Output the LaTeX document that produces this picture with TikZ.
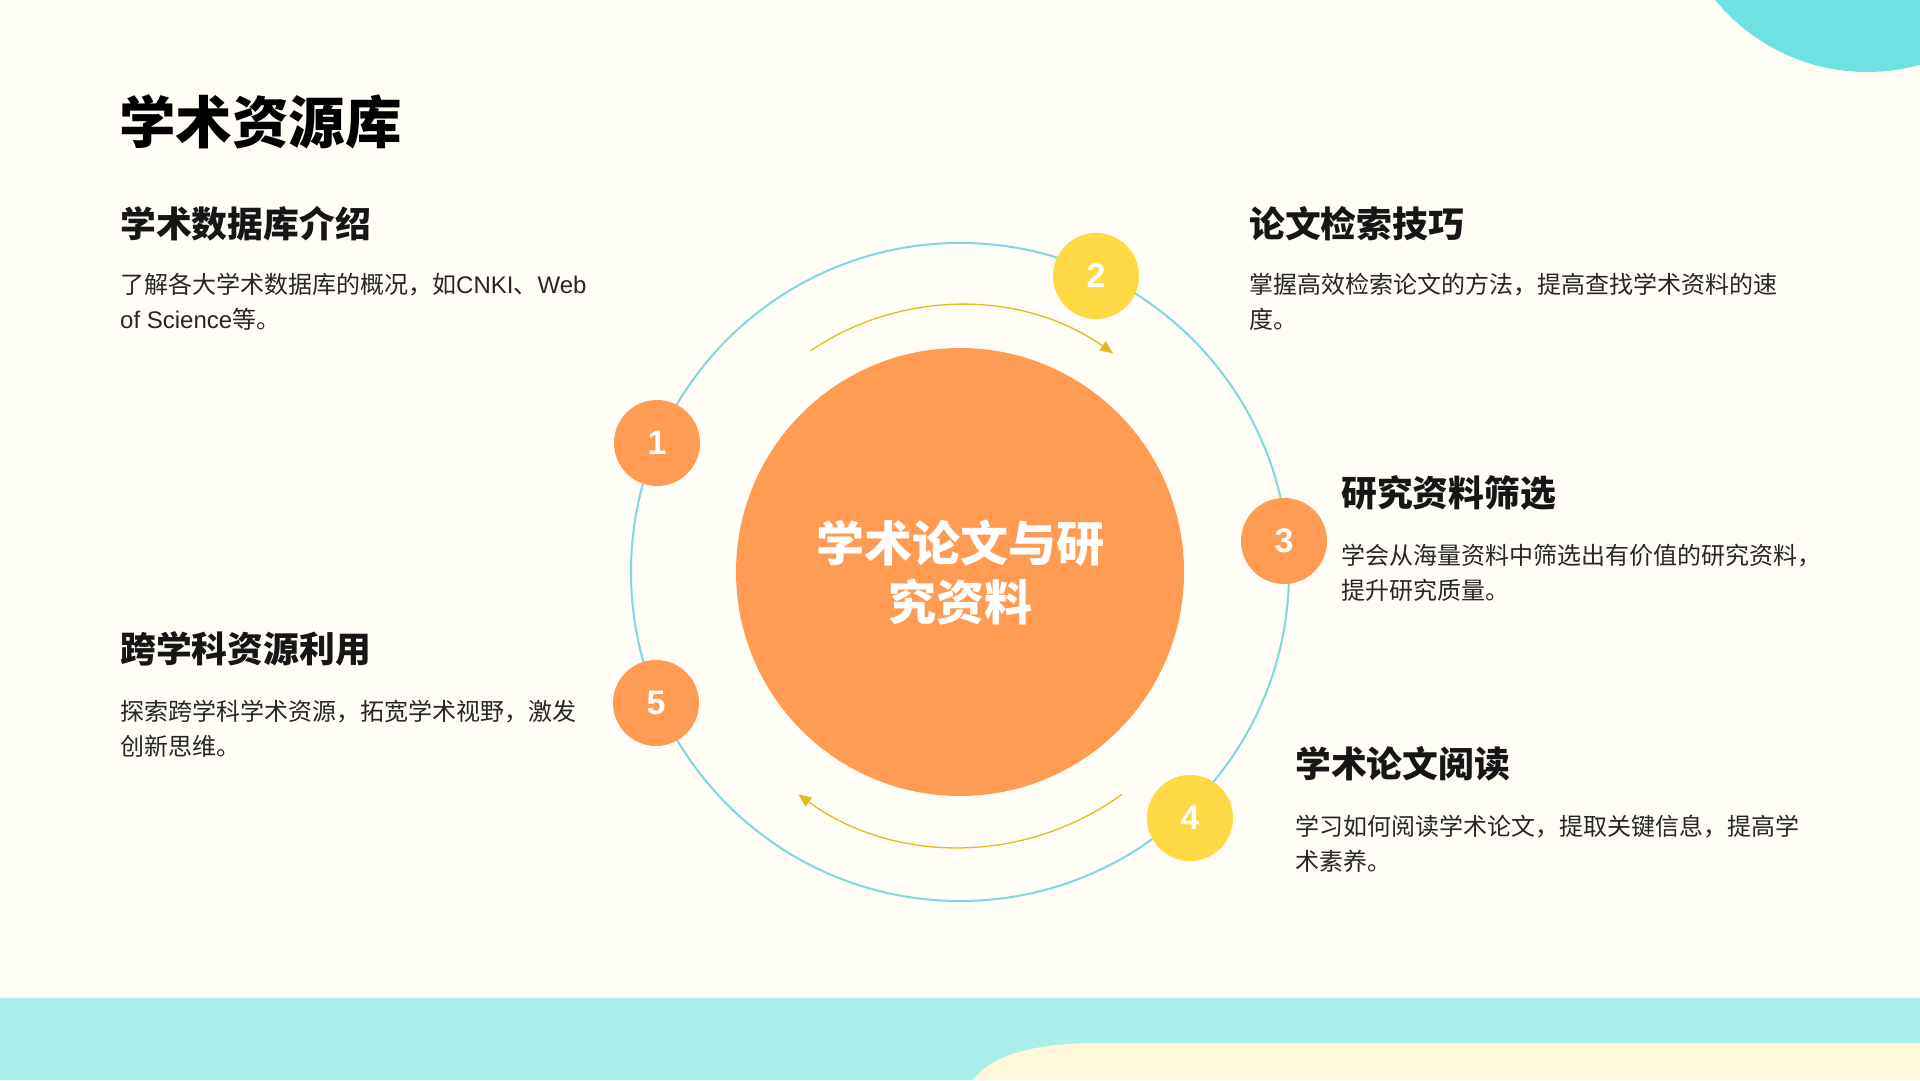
\documentclass[tikz,border=0pt]{standalone}
\usepackage{fontspec}
\setmainfont{Noto Sans CJK SC}
\newfontfamily\latinf{Liberation Sans}
\usetikzlibrary{arrows.meta}
\definecolor{bgc}{HTML}{FFFDF6}
\definecolor{bandc}{HTML}{AAEEEB}
\definecolor{creamc}{HTML}{FFF7D9}
\definecolor{topc}{HTML}{6FE1E0}
\definecolor{ringc}{HTML}{7ED8DF}
\definecolor{orangec}{HTML}{FF9B52}
\definecolor{yellowc}{HTML}{FFD944}
\definecolor{arrowc}{HTML}{E3BC1C}
\definecolor{headc}{HTML}{161616}
\definecolor{bodyc}{HTML}{262626}
\tikzset{
  numdot/.style={circle, inner sep=0pt, minimum size=86pt, text=white,
    font=\latinf\bfseries\fontsize{34}{38}\selectfont},
  orangedot/.style={numdot, fill=orangec},
  yellowdot/.style={numdot, fill=yellowc},
  headtxt/.style={anchor=west, inner sep=0pt, text=headc,
    font=\bfseries\fontsize{35.8}{40}\selectfont},
  bodytxt/.style={anchor=north west, inner sep=0pt, align=left, text=bodyc,
    font=\fontsize{24}{34.5}\selectfont},
  flowarc/.style={draw=arrowc, line width=1.3pt,
    -{Triangle[length=13pt,width=11pt]}},
}
\begin{document}
\begin{tikzpicture}[x=1pt,y=1pt]
\useasboundingbox (0,0) rectangle (1920,1080);
\clip (0,0) rectangle (1920,1080);
% background
\fill[bgc] (0,0) rectangle (1920,1080);
\fill[bandc] (0,0) rectangle (1920,82);
\fill[creamc] (973,0) .. controls (995,28) and (1040,37) .. (1102,37) -- (1920,37) -- (1920,0) -- cycle;
\fill[topc] (1867,1204) circle[radius=196];
% ring
\coordinate (C) at (960,508);
\draw[ringc, line width=2pt] (C) circle[radius=329];
% hub
\node[circle, fill=orangec, inner sep=0pt, minimum size=448pt, text=white, align=center,
  font=\bfseries\fontsize{48}{59}\selectfont] (hub) at (C) {学术论文与研\\究资料};
% flow arcs
\draw[flowarc] ([shift={(124:267)}]C) arc[start angle=124, end angle=55, radius=267];
\draw[flowarc] ([shift={(-54:275)}]C) arc[start angle=-54, end angle=-126, radius=275];
% number dots
\node[orangedot] (n1) at (657,637) {1};
\node[yellowdot] (n2) at (1096,804) {2};
\node[orangedot] (n3) at (1284,539) {3};
\node[yellowdot] (n4) at (1190,262) {4};
\node[orangedot] (n5) at (656,377) {5};
% title
\node[anchor=west, inner sep=0pt, text=black, font=\bfseries\fontsize{56.5}{60}\selectfont] (title) at (119,958) {学术资源库};
% section 1
\node[headtxt] (h1) at (120,856) {学术数据库介绍};
\node[bodytxt] (b1) at (120,807) {了解各大学术数据库的概况，如{\latinf CNKI}、{\latinf Web}\\{\latinf of Science}等。};
% section 2
\node[headtxt] (h2) at (1249,856) {论文检索技巧};
\node[bodytxt] (b2) at (1249,807) {掌握高效检索论文的方法，提高查找学术资料的速\\度。};
% section 3
\node[headtxt] (h3) at (1341,587) {研究资料筛选};
\node[bodytxt] (b3) at (1341,536) {学会从海量资料中筛选出有价值的研究资料，\\提升研究质量。};
% section 4
\node[headtxt] (h4) at (1295,316) {学术论文阅读};
\node[bodytxt] (b4) at (1295,265) {学习如何阅读学术论文，提取关键信息，提高学\\术素养。};
% section 5
\node[headtxt] (h5) at (120,431) {跨学科资源利用};
\node[bodytxt] (b5) at (120,380) {探索跨学科学术资源，拓宽学术视野，激发\\创新思维。};
\end{tikzpicture}
\end{document}
